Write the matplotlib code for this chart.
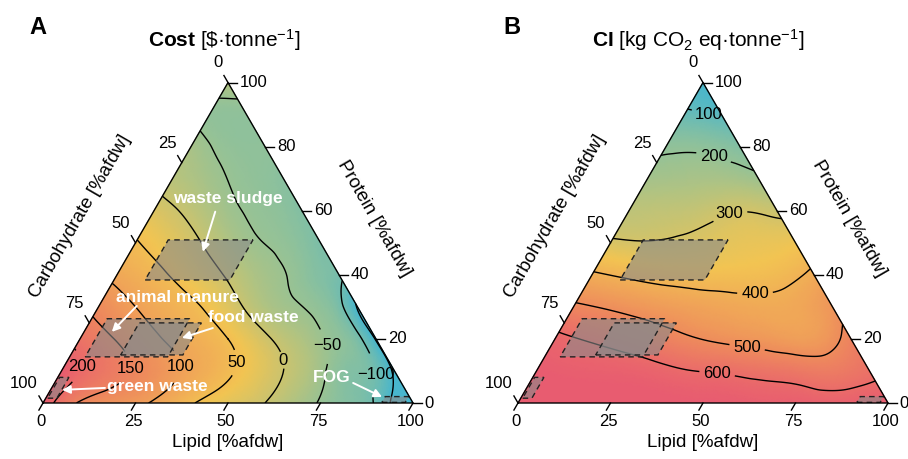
import numpy as np
import matplotlib
matplotlib.use('Agg')
import matplotlib.pyplot as plt
import matplotlib.tri as mtri
from matplotlib.colors import LinearSegmentedColormap
from matplotlib.patches import Polygon

plt.rcParams['font.family'] = ['Liberation Sans', 'DejaVu Sans']
plt.rcParams['mathtext.fontset'] = 'custom'
plt.rcParams['mathtext.rm'] = 'Liberation Sans'
plt.rcParams['mathtext.bf'] = 'Liberation Sans:bold'
plt.rcParams['mathtext.default'] = 'regular'
plt.rcParams['contour.negative_linestyle'] = 'solid'

# values read on a 10 % lattice: one row per protein level,
# entries for lipid = 0, 10, ... 100-protein
protein_steps = [0, 10, 20, 30, 40, 50, 60, 70, 80, 90, 100]

cost_rows = [
    [230, 145, 120, 95, 54, 25, 0, -36, -70, -105, -190],
    [230, 180, 145, 108, 73, 38, 0, -42, -80, -160],
    [182, 147, 108, 78, 50, 7, -28, -62, -155],
    [137, 100, 72, 42, -5, -40, -62, -155],
    [88, 62, 30, -5, -38, -62, -92],
    [53, 25, -8, -42, -58, -85],
    [18, -10, -42, -58, -78],
    [-18, -40, -58, -70],
    [-35, -58, -62],
    [-60, -62],
    [-22],
]
# a few extra readings close to the lipid/protein edge
cost_extra_lipid = [95, 85, 75, 65, 55]
cost_extra_protein = [0, 10, 20, 30, 40]
cost_extra_value = [-165, -100, -88, -88, -78]

ci_rows = [
    [690, 680, 670, 660, 655, 650, 645, 640, 635, 635, 650],
    [650, 640, 635, 625, 604, 592, 575, 560, 548, 580],
    [615, 592, 565, 530, 498, 478, 460, 455, 528],
    [515, 490, 465, 445, 430, 420, 425, 475],
    [410, 388, 372, 365, 365, 375, 415],
    [310, 303, 310, 325, 335, 345],
    [265, 270, 280, 298, 285],
    [225, 230, 232, 215],
    [190, 188, 165],
    [115, 90],
    [60],
]

cost_levels = [-100, -50, 0, 50, 100, 150, 200]
cost_plain_levels = [-150]
cost_label_at = [(85.9, 8.75), (69.0, 18.1), (58.2, 13.4), (46.2, 12.5),
                 (32.2, 11.25), (18.0, 10.9), (4.9, 11.25)]
ci_levels = [100, 200, 300, 400, 500, 600]
ci_label_at = [(6.9, 89.0), (14.2, 78.0), (27.9, 58.75), (46.4, 35.3),
               (53.3, 17.2), (49.4, 8.75)]

# feedstock composition ranges [%afdw]
feed_names = ['waste sludge', 'animal manure', 'food waste', 'green waste', 'FOG']
feed_lipid_lo = [8.4, 4.2, 13.5, 0.5, 91.5]
feed_lipid_hi = [31.3, 26.5, 30.3, 3.0, 97.8]
feed_protein_lo = [38.4, 14.4, 15.0, 1.5, 0.2]
feed_protein_hi = [50.9, 26.3, 25.0, 8.0, 2.0]

lipid_ticks = [0, 25, 50, 75, 100]
carb_ticks = [0, 25, 50, 75, 100]
protein_ticks = [0, 20, 40, 60, 80, 100]

cmap = LinearSegmentedColormap.from_list(
    'tern', ['#48b6ce', '#96c296', '#f2c452', '#ee8c5c', '#e85c70'])

H = np.sqrt(3) / 2


def tern(lip, pro):
    lip = np.asarray(lip, float)
    pro = np.asarray(pro, float)
    return lip + pro / 2, pro * H


def lattice(rows, el=(), ep=(), ev=()):
    L, P, Z = [], [], []
    for p, row in zip(protein_steps, rows):
        for i, z in enumerate(row):
            L.append(i * 10)
            P.append(p)
            Z.append(z)
    L += list(el)
    P += list(ep)
    Z += list(ev)
    x, y = tern(L, P)
    tri = mtri.Triangulation(x, y)
    ref = mtri.UniformTriRefiner(tri)
    return ref.refine_field(np.array(Z, float), subdiv=4)


def fmt(v):
    return f'{v:.0f}'.replace('-', '\u2212')


def draw_panel(ax, tri_f, z_f, vmin, vmax, levels, label_at, plain_levels=()):
    ax.set_xlim(0, 100)
    ax.set_ylim(0, 100 * H)
    ax.axis('off')
    ax.tripcolor(tri_f, z_f, shading='gouraud', cmap=cmap, vmin=vmin, vmax=vmax)
    if plain_levels:
        ax.tricontour(tri_f, z_f, levels=list(plain_levels), colors='k',
                      linewidths=1.0, linestyles='solid')
    cs = ax.tricontour(tri_f, z_f, levels=levels, colors='k', linewidths=1.0,
                       linestyles='solid')
    pos = [tuple(map(float, tern(l, p))) for l, p in label_at]
    labs = ax.clabel(cs, fmt=fmt, fontsize=12, inline=True, manual=pos,
                     inline_spacing=4)
    for t in labs:
        t.set_rotation(0)

    # feedstock boxes
    for l1, l2, p1, p2 in zip(feed_lipid_lo, feed_lipid_hi, feed_protein_lo, feed_protein_hi):
        xs, ys = tern([l1, l2, l2, l1], [p1, p1, p2, p2])
        ax.add_patch(Polygon(np.c_[xs, ys], closed=True, facecolor='#8a8a8a',
                             edgecolor='none', alpha=0.6, zorder=4))
        ax.add_patch(Polygon(np.c_[xs, ys], closed=True, facecolor='none',
                             edgecolor='#222222', lw=1.0, ls=(0, (4, 3)), zorder=5))

    # frame
    ax.plot([0, 100, 50, 0], [0, 0, 100 * H, 0], color='k', lw=1.0,
            clip_on=False, zorder=6)
    tl = 2.2
    for v in lipid_ticks:
        x0, y0 = tern(v, 0)
        ax.plot([x0, x0 - 0.5 * tl], [y0, y0 - H * tl], color='k', lw=1, clip_on=False)
        ax.text(x0 - 0.6, -4.9, f'{v}', ha='center', va='center', fontsize=12)
    for v in protein_ticks:
        x0, y0 = tern(100 - v, v)
        ax.plot([x0, x0 + 2.5], [y0, y0], color='k', lw=1, clip_on=False)
        ax.text(x0 + 3.2, y0, f'{v}', ha='left', va='center', fontsize=12)
    for v in carb_ticks:
        x0, y0 = tern(0, 100 - v)
        ax.plot([x0, x0 - 0.5 * tl], [y0, y0 + H * tl], color='k', lw=1, clip_on=False)
        ax.text(x0 - 1.4, y0 + 5.3, f'{v}', ha='right', va='center', fontsize=12)

    ax.text(50, -10.8, 'Lipid [%afdw]', ha='center', va='center', fontsize=13.5)
    ax.text(10.0, 50.3, 'Carbohydrate [%afdw]', ha='center', va='center',
            rotation=60, fontsize=13.5, rotation_mode='anchor')
    ax.text(89.6, 49.9, 'Protein [%afdw]', ha='center', va='center',
            rotation=-60, fontsize=13.5, rotation_mode='anchor')


fig = plt.figure(figsize=(9.08, 4.59), dpi=100)
w = 370 / 908
h = 370 * H / 459
axA = fig.add_axes([43 / 908, 56 / 459, w, h])
axB = fig.add_axes([518 / 908, 56 / 459, w, h])

tri_c, z_c = lattice(cost_rows, cost_extra_lipid, cost_extra_protein, cost_extra_value)
draw_panel(axA, tri_c, z_c, -150, 230, cost_levels, cost_label_at, cost_plain_levels)
tri_i, z_i = lattice(ci_rows)
draw_panel(axB, tri_i, z_i, 50, 650, ci_levels, ci_label_at)

axA.text(49, 98.1, r'$\bf{Cost}$ [\$·tonne$^{-1}$]', ha='center', va='center', fontsize=15)
axB.text(48.6, 98.1, r'$\bf{CI}$ [kg CO$_2$ eq·tonne$^{-1}$]', ha='center', va='center', fontsize=15)
axA.text(-1.5, 101.4, 'A', ha='center', va='center', fontsize=17, fontweight='bold')
axB.text(-1.6, 101.4, 'B', ha='center', va='center', fontsize=17, fontweight='bold')

# feedstock annotations (panel A only)
notes = [
    ('waste sludge', (18.1, 63.75), (16.7, 59.7), (19.6, 47.2)),
    ('animal manure', (19.8, 32.8), (10.2, 30.3), (7.5, 22.2)),
    ('food waste', (43.5, 26.6), (34.2, 23.4), (27.4, 20.3)),
    ('green waste', (28.3, 5.0), (14.4, 4.7), (3.1, 4.1)),
    ('FOG', (74.1, 8.1), (80.7, 6.25), (90.7, 1.9)),
]
for name, tpos, tail, head in notes:
    tx, ty = tern(*tpos)
    axA.text(tx, ty, name, color='white', fontweight='bold', fontsize=12.5,
             ha='center', va='center', zorder=8)
    axA.annotate('', xy=tuple(map(float, tern(*head))), xytext=tuple(map(float, tern(*tail))),
                 arrowprops=dict(arrowstyle='-|>', color='white', lw=1.4,
                                 mutation_scale=12, shrinkA=0, shrinkB=0), zorder=8)

fig.savefig('out.png', dpi=100)
